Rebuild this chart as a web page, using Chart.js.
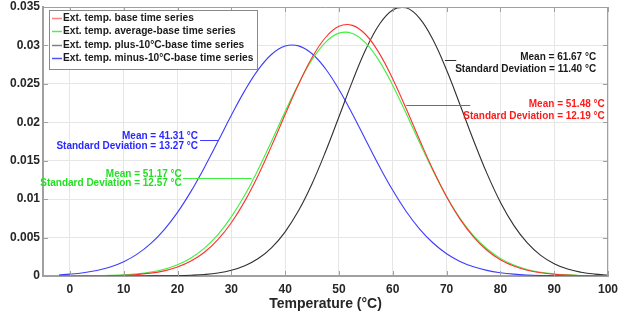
<!DOCTYPE html>
<html><head><meta charset="utf-8">
<script src="https://cdn.jsdelivr.net/npm/chart.js@4/dist/chart.umd.min.js"></script>
<style>html,body{margin:0;padding:0;background:#fff;}#wrap{width:618px;height:318px;}</style>
</head><body><div id="wrap"><canvas id="c" width="618" height="318"></canvas></div>
<script>
// ---- data ----
const temps = [-2,0,2.5,5,7.5,10,12.5,15,17.5,20,22.5,25,27.5,30,32.5,35,37.5,40,42.5,45,47.5,50,52.5,55,57.5,60,62.5,65,67.5,70,72.5,75,77.5,80,82.5,85,87.5,90,92.5,95,97.5,100];
const baseSeries = [0,0,0.00001,0.00002,0.00005,0.0001,0.0002,0.00037,0.00067,0.00117,0.00194,0.00309,0.00473,0.00693,0.00974,0.01312,0.01696,0.02101,0.02495,0.02842,0.03103,0.03249,0.03261,0.03139,0.02897,0.02563,0.02175,0.01769,0.0138,0.01032,0.0074,0.00509,0.00335,0.00212,0.00129,0.00075,0.00042,0.00022,0.00011,0.00006,0.00003,0.00001];
const averageSeries = [0,0.00001,0.00002,0.00004,0.00008,0.00015,0.00028,0.00051,0.00088,0.00147,0.00235,0.00363,0.00539,0.00769,0.01053,0.01388,0.01757,0.02139,0.02502,0.02814,0.03041,0.0316,0.03156,0.0303,0.02796,0.0248,0.02114,0.01733,0.01365,0.01034,0.00752,0.00526,0.00354,0.00229,0.00142,0.00085,0.00049,0.00027,0.00014,0.00007,0.00004,0.00002];
const plus10Series = [0,0,0,0,0,0,0,0.00001,0.00002,0.00004,0.0001,0.0002,0.00039,0.00074,0.00133,0.00227,0.0037,0.00575,0.00851,0.01201,0.01616,0.02072,0.02532,0.02949,0.03273,0.03462,0.0349,0.03353,0.03071,0.0268,0.02229,0.01767,0.01335,0.00961,0.00659,0.00431,0.00269,0.0016,0.0009,0.00049,0.00025,0.00012];
const minus10Series = [0.00015,0.00024,0.00042,0.00071,0.00117,0.00186,0.00285,0.00421,0.00601,0.00828,0.01101,0.01413,0.01749,0.02091,0.02412,0.02685,0.02885,0.02992,0.02994,0.02892,0.02697,0.02426,0.02107,0.01766,0.01428,0.01115,0.0084,0.00611,0.00429,0.0029,0.0019,0.0012,0.00073,0.00043,0.00024,0.00013,0.00007,0.00004,0.00002,0.00001,0,0];
const seriesLabels = ['Ext. temp. base time series','Ext. temp. average-base time series','Ext. temp. plus-10\u00B0C-base time series','Ext. temp. minus-10\u00B0C-base time series'];
const xTicks = [0,10,20,30,40,50,60,70,80,90,100];
const yTicks = [0,0.005,0.01,0.015,0.02,0.025,0.03,0.035];
const yTickLabels = ['0','0.005','0.01','0.015','0.02','0.025','0.03','0.035'];
const xTitle = 'Temperature (\u00B0C)';
const statTexts = [
  ['Mean = 61.67 \u00B0C','Standard Deviation = 11.40 \u00B0C'],
  ['Mean = 51.48 \u00B0C','Standard Deviation = 12.19 \u00B0C'],
  ['Mean = 41.31 \u00B0C','Standard Deviation = 13.27 \u00B0C'],
  ['Mean = 51.17 \u00B0C','Standard Deviation = 12.57 \u00B0C']
];

// ---- styling / placement ----
const FONT = "'Liberation Sans', Arial, sans-serif";
const seriesColors = ['#ff3030','#40f040','#303030','#3c3cff'];
const legendColors = ['#ff8080','#50ee50','#808080','#5050ff'];
const textColors = ['#1a1a1a','#ff1a1a','#2a2aff','#22e022'];
const annotPlace = [
  {tx:97.8, ty:0.0285, gap:12, lx1:69.7, lx2:71.8, ly:0.0281, color:'#303030'},
  {tx:99.4, ty:0.02238, gap:12, lx1:62.5, lx2:74.4, ly:0.02225, color:'#ff3030'},
  {tx:23.8, ty:0.01822, gap:10, lx1:24.2, lx2:27.7, ly:0.01769, color:'#3c3cff'},
  {tx:20.8, ty:0.01327, gap:9.5, lx1:21.0, lx2:33.8, ly:0.01275, color:'#40f040'}
];

function pts(arr){ return temps.map((t,i)=>({x:t,y:arr[i]})); }

const framePlugin = {
  id:'frame',
  afterDraw(chart){
    const {ctx, chartArea:a, scales:{x,y}} = chart;
    ctx.save();
    ctx.strokeStyle = '#a0a0a0'; ctx.lineWidth = 1;
    ctx.beginPath();
    ctx.moveTo(a.left, a.top+0.5); ctx.lineTo(a.right, a.top+0.5);
    ctx.moveTo(a.right-0.5, a.top); ctx.lineTo(a.right-0.5, a.bottom);
    xTicks.forEach(v=>{ const px=Math.round(x.getPixelForValue(v))+0.5;
      ctx.moveTo(px,a.bottom); ctx.lineTo(px,a.bottom-5);
      ctx.moveTo(px,a.top); ctx.lineTo(px,a.top+5); });
    yTicks.forEach(v=>{ const py=Math.round(y.getPixelForValue(v))+0.5;
      ctx.moveTo(a.left,py); ctx.lineTo(a.left+5,py);
      ctx.moveTo(a.right,py); ctx.lineTo(a.right-5,py); });
    ctx.stroke();
    // annotations
    statTexts.forEach((lines,i)=>{
      const p = annotPlace[i];
      ctx.strokeStyle = p.color; ctx.lineWidth = 1;
      const ly = Math.round(y.getPixelForValue(p.ly))+0.5;
      ctx.beginPath(); ctx.moveTo(x.getPixelForValue(p.lx1), ly); ctx.lineTo(x.getPixelForValue(p.lx2), ly); ctx.stroke();
      ctx.fillStyle = textColors[i];
      ctx.font = 'bold 10px ' + FONT;
      ctx.textAlign = 'right'; ctx.textBaseline = 'middle';
      const tx = x.getPixelForValue(p.tx), ty = y.getPixelForValue(p.ty);
      lines.forEach((s,k)=>ctx.fillText(s, tx, ty + k*p.gap));
    });
    // legend
    const lx=49, ly0=10, lw=208, lh=59;
    ctx.fillStyle='#ffffff'; ctx.fillRect(lx,ly0,lw,lh);
    ctx.strokeStyle='#8a8a8a'; ctx.lineWidth=1; ctx.strokeRect(lx+0.5,ly0+0.5,lw,lh);
    ctx.font = 'bold 10.2px ' + FONT; ctx.textAlign='left'; ctx.textBaseline='middle';
    seriesLabels.forEach((lab,i)=>{
      const yy = ly0 + 8 + i*13.4;
      ctx.strokeStyle = legendColors[i]; ctx.lineWidth = 1.5;
      ctx.beginPath(); ctx.moveTo(lx+3, Math.round(yy)+0.5); ctx.lineTo(lx+13, Math.round(yy)+0.5); ctx.stroke();
      ctx.fillStyle = '#1a1a1a'; ctx.fillText(lab, lx+14, yy);
    });
    ctx.restore();
  }
};

new Chart(document.getElementById('c'), {
  type:'line',
  data:{ datasets:[
    {label:seriesLabels[0], data:pts(baseSeries), borderColor:seriesColors[0]},
    {label:seriesLabels[1], data:pts(averageSeries), borderColor:seriesColors[1]},
    {label:seriesLabels[2], data:pts(plus10Series), borderColor:seriesColors[2]},
    {label:seriesLabels[3], data:pts(minus10Series), borderColor:seriesColors[3]}
  ].map(d=>Object.assign(d,{borderWidth:1.1, pointRadius:0, tension:0.4, fill:false}))},
  options:{
    responsive:false, animation:false, devicePixelRatio:1,
    layout:{padding:{top:7,right:10,left:0,bottom:0}},
    plugins:{legend:{display:false}, tooltip:{enabled:false}},
    scales:{
      x:{ type:'linear', min:-5, max:100,
        afterBuildTicks:s=>{ s.ticks = xTicks.map(v=>({value:v})); },
        afterFit:s=>{ s.height=42; s.paddingLeft=0; s.paddingRight=0; },
        ticks:{ autoSkip:false, maxRotation:0, padding:6, color:'#262626', font:{family:FONT, size:12, weight:'bold'}, callback:v=>String(v) },
        grid:{ color:'#e6e6e6', drawTicks:false },
        border:{ color:'#a0a0a0', width:2 },
        title:{ display:true, text:xTitle, color:'#262626', font:{family:FONT, size:14, weight:'bold'}, padding:{top:0,bottom:5} }
      },
      y:{ min:0, max:0.035,
        afterBuildTicks:s=>{ s.ticks = yTicks.map(v=>({value:v})); },
        afterFit:s=>{ s.width=43; s.paddingTop=0; s.paddingBottom=0; },
        ticks:{ padding:3, color:'#262626', font:{family:FONT, size:12, weight:'bold'}, callback:(v,i)=>yTickLabels[i] },
        grid:{ color:'#e6e6e6', drawTicks:false },
        border:{ color:'#a0a0a0', width:2 }
      }
    }
  },
  plugins:[framePlugin]
});
</script></body></html>
